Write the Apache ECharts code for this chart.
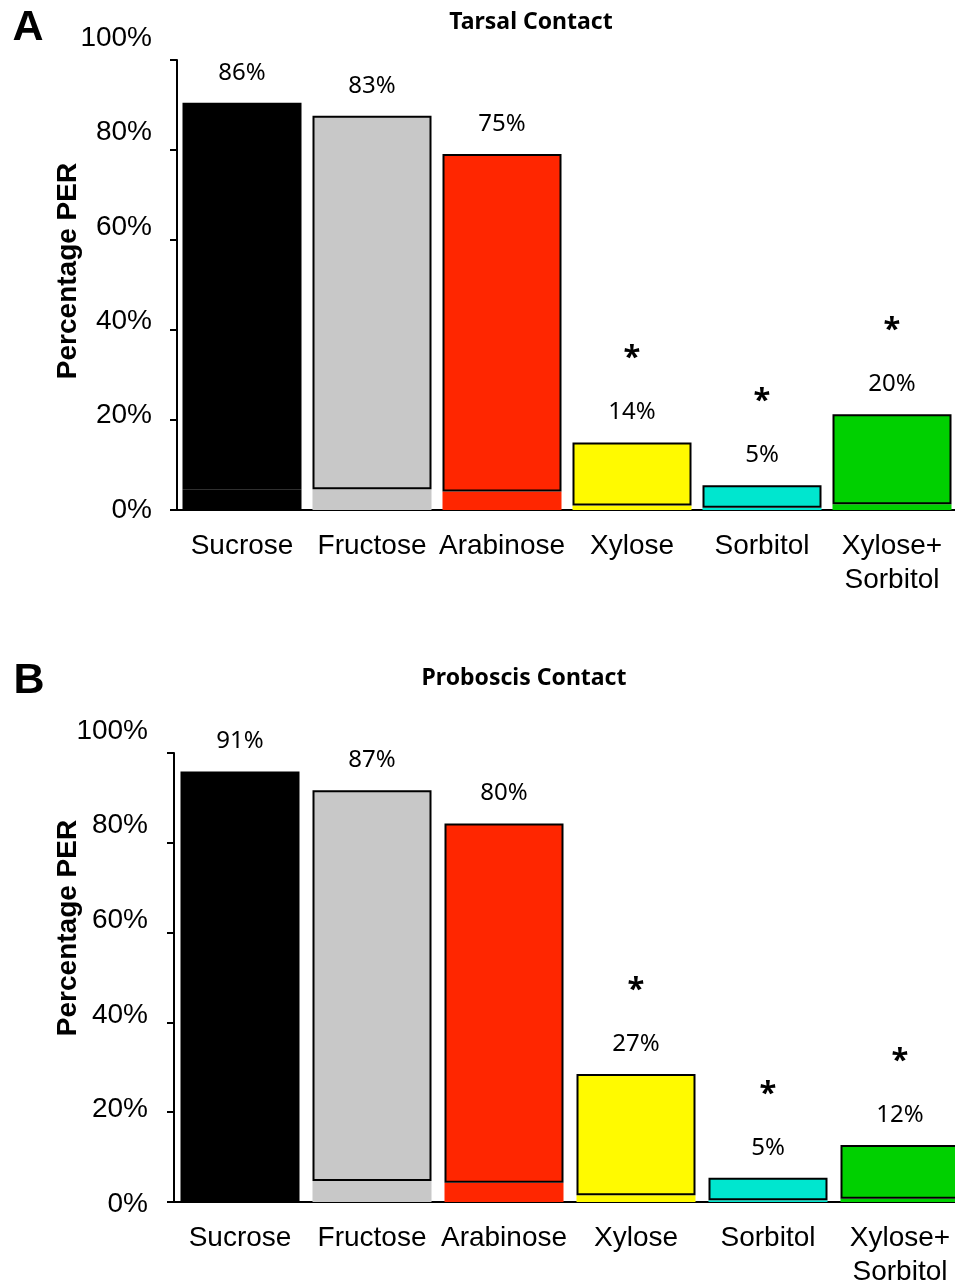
<!DOCTYPE html>
<html>
<head>
<meta charset="utf-8">
<title>Percentage PER</title>
<script src="https://cdn.jsdelivr.net/npm/echarts@6/dist/echarts.min.js"></script>
<style>
	html, body { margin: 0; padding: 0; background: #fff; }
	#chart { width: 955px; height: 1285px; }
</style>
</head>
<body>
<div id="chart"></div>
<script>
var categories = ['Sucrose', 'Fructose', 'Arabinose', 'Xylose', 'Sorbitol', 'Xylose+\nSorbitol'];
var barColors = ['#000000', '#c8c8c8', '#ff2600', '#fffa00', '#00e6cf', '#00d000'];
var yTickLabels = ['0%', '20%', '40%', '60%', '80%', '100%'];

// A: tarsal contact
var tarsalValues = [86, 83, 75, 14, 5, 20];
var tarsalFill = [4.5, 4.6, 4.1, 1.0, 0.5, 1.3]; // colour showing under the outlined box
var tarsalStars = ['', '', '', '*', '*', '*'];

// B: proboscis contact
var proboscisValues = [91, 87, 80, 27, 5, 12];
var proboscisFill = [4.9, 4.7, 4.3, 1.5, 0.4, 0.7];
var proboscisStars = ['', '', '', '*', '*', '*'];

var axisFont = 'Liberation Sans, Arial, sans-serif';
var labelFont = 'Noto Sans, Open Sans, sans-serif';

function mainGrid(left, top, width, height) {
	return { left: left, top: top, width: width, height: height, outerBoundsMode: 'none', containLabel: false };
}

function panelAxes(gridIndex) {
	return {
		x: [{
			gridIndex: gridIndex,
			type: 'category',
			data: categories,
			axisLine: { lineStyle: { color: '#000', width: 2 } },
			axisTick: { show: false },
			axisLabel: {
				interval: 0,
				margin: 19,
				color: '#000',
				fontFamily: axisFont,
				fontSize: 28,
				lineHeight: 34
			}
		}, {
			gridIndex: gridIndex + 1,
			type: 'value',
			show: false
		}],
		y: [{
			gridIndex: gridIndex,
			type: 'value',
			min: 0,
			max: 100,
			interval: 20,
			axisLine: { show: true, lineStyle: { color: '#000', width: 2 } },
			axisTick: { show: true, inside: false, length: 7, lineStyle: { color: '#000', width: 2 } },
			axisLabel: { show: false },
			splitLine: { show: false }
		}, {
			// tick labels sit on their own, slightly taller scale
			gridIndex: gridIndex + 1,
			type: 'category',
			data: yTickLabels,
			boundaryGap: false,
			axisLine: { show: false },
			axisTick: { show: false },
			splitLine: { show: false },
			axisLabel: {
				interval: 0,
				margin: 6,
				color: '#000',
				fontFamily: axisFont,
				fontSize: 28
			}
		}]
	};
}

function panelSeries(axisIndex, values, fill, stars) {
	return [{
		type: 'bar',
		xAxisIndex: axisIndex,
		yAxisIndex: axisIndex,
		stack: 'panel' + axisIndex,
		barWidth: 119,
		silent: true,
		data: fill.map(function(v, i) {
			return { value: v, itemStyle: { color: barColors[i] } };
		})
	}, {
		type: 'bar',
		xAxisIndex: axisIndex,
		yAxisIndex: axisIndex,
		stack: 'panel' + axisIndex,
		barWidth: 119,
		data: values.map(function(v, i) {
			return { value: v, itemStyle: { color: barColors[i], borderColor: '#000', borderWidth: 2 } };
		}),
		label: {
			show: true,
			position: 'top',
			distance: 15,
			formatter: function(p) {
				var s = stars[p.dataIndex];
				return (s ? '{s|' + s + '}\n' : '') + '{v|' + p.value + '%}';
			},
			rich: {
				v: { fontFamily: labelFont, fontSize: 24, color: '#000', lineHeight: 30 },
				s: { fontFamily: labelFont, fontSize: 31, fontWeight: 'bold', color: '#000', lineHeight: 78 }
			}
		}
	}];
}

function text(x, y, str, font, rotation) {
	return {
		type: 'text',
		x: x,
		y: y,
		rotation: rotation || 0,
		silent: true,
		style: {
			text: str,
			font: font,
			fill: '#000',
			textAlign: 'center',
			textVerticalAlign: 'middle',
			align: 'center',
			verticalAlign: 'middle'
		}
	};
}

var axesA = panelAxes(0);
var axesB = panelAxes(2);

var option = {
	backgroundColor: '#fff',
	animation: false,
	grid: [
		mainGrid(177, 60, 780, 450),
		mainGrid(158, 38, 10, 472),
		mainGrid(174, 753, 792, 449),
		mainGrid(154, 731, 10, 473)
	],
	xAxis: axesA.x.concat(axesB.x),
	yAxis: axesA.y.concat(axesB.y),
	series: panelSeries(0, tarsalValues, tarsalFill, tarsalStars)
		.concat(panelSeries(2, proboscisValues, proboscisFill, proboscisStars)),
	graphic: [
		text(28, 28, 'A', 'bold 43px Liberation Sans'),
		text(531, 22, 'Tarsal Contact', 'bold 23px Noto Sans'),
		text(68, 271, 'Percentage PER', 'bold 28px Liberation Sans', Math.PI / 2),
		text(29, 681, 'B', 'bold 43px Liberation Sans'),
		text(524, 678, 'Proboscis Contact', 'bold 23px Noto Sans'),
		text(68, 928, 'Percentage PER', 'bold 28px Liberation Sans', Math.PI / 2)
	]
};

var chart = echarts.init(document.getElementById('chart'));
chart.setOption(option);
</script>
</body>
</html>
